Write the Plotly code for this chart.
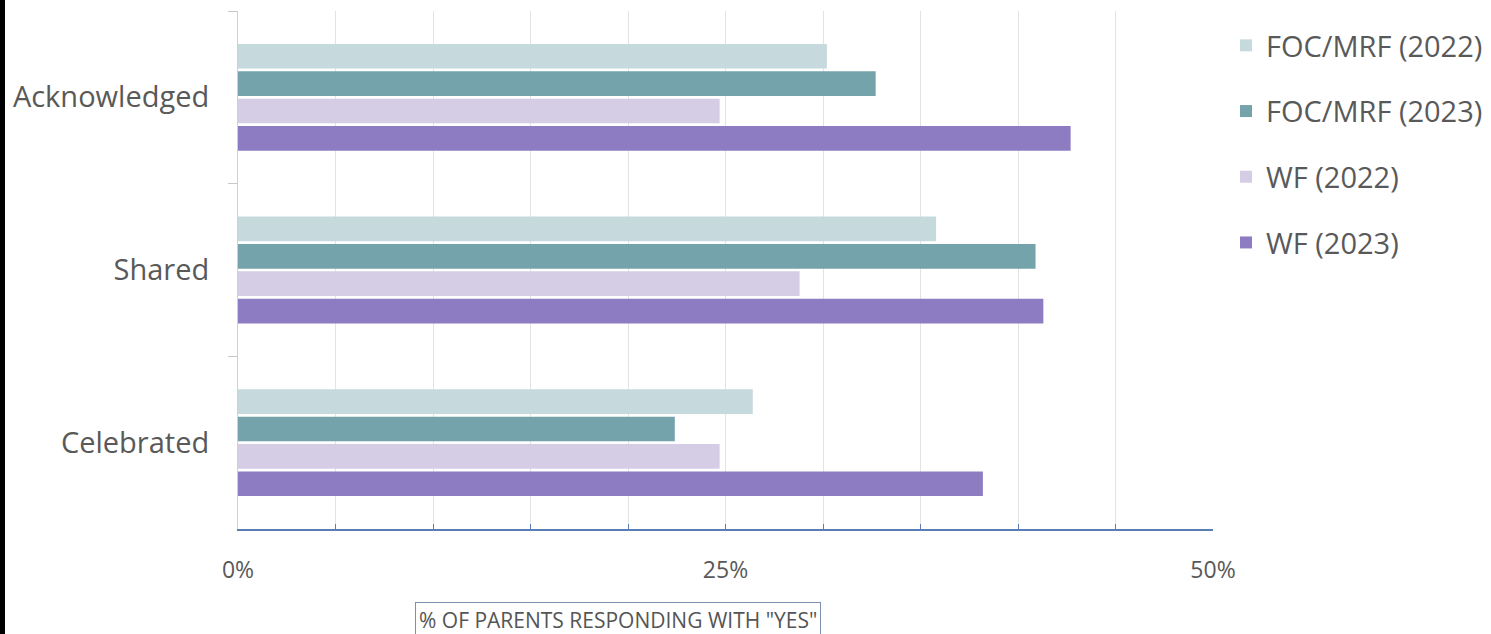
import plotly.graph_objects as go

categories = ["Acknowledged", "Shared", "Celebrated"]
series_names = ["FOC/MRF (2022)", "FOC/MRF (2023)", "WF (2022)", "WF (2023)"]
foc_2022 = [30.2, 35.8, 26.4]
foc_2023 = [32.7, 40.9, 22.4]
wf_2022 = [24.7, 28.8, 24.7]
wf_2023 = [42.7, 41.3, 38.2]
tick_values = [0, 5, 10, 15, 20, 25, 30, 35, 40, 45, 50]
tick_labels = ["0%", "", "", "", "", "25%", "", "", "", "", "50%"]
colors = ["#c6dadd", "#74a3ab", "#d5cde6", "#8e7cc2"]

series_values = [foc_2022, foc_2023, wf_2022, wf_2023]

W, H = 1491, 634
L, R, T, B = 238, W - 1213, 11, H - 529
pw = W - L - R
ph = H - T - B

fig = go.Figure()
for i, (name, vals) in enumerate(zip(series_names, series_values)):
    fig.add_trace(go.Bar(
        y=categories, x=vals, name=name, orientation="h",
        marker=dict(color=colors[i], line=dict(width=0)),
        legendgroup=f"g{i}",
    ))

fig.update_layout(
    width=W, height=H,
    margin=dict(l=L, r=R, t=T, b=B, autoexpand=False),
    paper_bgcolor="white", plot_bgcolor="white",
    barmode="group", bargap=0.365, bargroupgap=0.1,
    font=dict(family="Open Sans", color="#595959"),
    showlegend=True,
    legend=dict(
        xref="container", yref="container",
        x=1226 / W, xanchor="left", y=1 - 20 / H, yanchor="top",
        font=dict(size=29, color="#595959"),
        tracegroupgap=25, bgcolor="rgba(0,0,0,0)",
    ),
    xaxis=dict(
        range=[0, 50], tickmode="array", tickvals=tick_values, ticktext=tick_labels,
        showgrid=True, gridcolor="#e3e3e3", gridwidth=1,
        showline=True, linecolor="#5a7db5", linewidth=1.5,
        ticks="inside", ticklen=5, tickcolor="#5a7db5",
        tickfont=dict(size=23, color="#595959"), ticklabelstandoff=20,
        zeroline=False, fixedrange=True, automargin=False,
    ),
    yaxis=dict(
        autorange="reversed", showline=True, linecolor="#d0d0d0", linewidth=1,
        ticks="outside", tickson="boundaries", ticklen=9, tickcolor="#c8c8c8",
        tickfont=dict(size=29, color="#595959"), ticklabelstandoff=22,
        showgrid=False, zeroline=False, automargin=False,
    ),
    shapes=[dict(type="rect", xref="paper", yref="paper",
                 x0=-L / pw, x1=(5 - L) / pw, y0=-B / ph - 0.01, y1=1 + T / ph + 0.01,
                 fillcolor="black", line=dict(width=0), layer="above")],
    annotations=[dict(
        text='% OF PARENTS RESPONDING WITH "YES"', xref="paper", yref="paper",
        x=(618 - L) / pw, y=-(602 - 529) / ph, xanchor="center", yanchor="top",
        showarrow=False, font=dict(size=21, color="#555555"),
        bordercolor="#7d8fb0", borderwidth=1, borderpad=3, bgcolor="white",
    )],
)

fig.write_html("out.html")
